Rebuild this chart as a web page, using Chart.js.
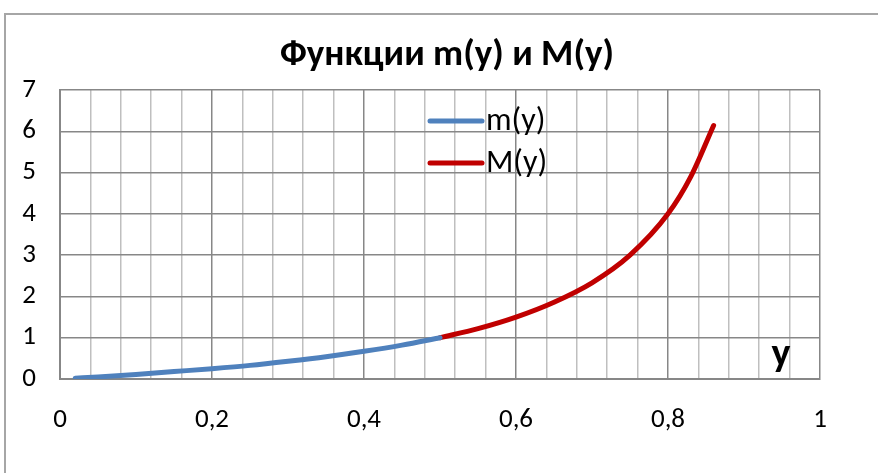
<!DOCTYPE html>
<html>
<head>
<meta charset="utf-8">
<script src="https://cdn.jsdelivr.net/npm/chart.js@4.4.1/dist/chart.umd.min.js"></script>
<style>
  body { margin: 0; background: #fff; overflow: hidden; }
  #frame { position: absolute; left: 4px; top: 13px; width: 900px; height: 500px; border: 2px solid #a6a6a6; }
  canvas { position: absolute; left: 0; top: 0; }
</style>
</head>
<body>
<div id="frame"></div>
<canvas id="chart" width="878" height="473"></canvas>
<script>
// m(y) and M(y)
const mX = [0.02, 0.05, 0.1, 0.15, 0.2, 0.25, 0.3, 0.35, 0.4, 0.45, 0.5];
const mY = [0.02, 0.05, 0.11, 0.18, 0.25, 0.33, 0.43, 0.54, 0.67, 0.82, 1.0];
const bigX = [0.5, 0.55, 0.6, 0.65, 0.7, 0.75, 0.8, 0.83, 0.86];
const bigY = [1.0, 1.22, 1.5, 1.86, 2.33, 3.0, 4.0, 4.9, 6.14];
const xTicks = ['0', '0,2', '0,4', '0,6', '0,8', '1'];
const titleText = 'Функции m(y) и M(y)';

const fam = 'Carlito, Lato, "Open Sans", sans-serif';
const tickFont = { family: fam, size: 27 };
const majorGrid = '#878787';
const minorGrid = '#bfbfbf';

function pts(xs, ys) {
  return xs.map((x, i) => ({ x: x, y: ys[i] }));
}

const isMajor = v => Math.round(v * 100) % 20 === 0;

// title, legend and the "y" axis name, placed like in the Excel chart
const extras = {
  id: 'extras',
  afterDatasetsDraw(chart) {
    const c = chart.ctx;
    const a = chart.chartArea;
    c.save();
    c.fillStyle = '#000';
    c.font = 'bold 37px ' + fam;
    c.textAlign = 'center';
    c.textBaseline = 'middle';
    c.fillText(titleText, 447, 56);

    c.textAlign = 'left';
    c.lineCap = 'round';
    c.lineWidth = 5;
    c.font = '32px ' + fam;
    chart.data.datasets.forEach((ds, i) => {
      const y = a.top + 31 + i * 42;
      c.strokeStyle = ds.borderColor;
      c.beginPath();
      c.moveTo(a.left + 370, y);
      c.lineTo(a.left + 422, y);
      c.stroke();
      c.fillText(ds.label, a.left + 426, y + 1);
    });
    c.font = 'bold 40px ' + fam;
    c.textAlign = 'center';
    c.textBaseline = 'alphabetic';
    c.fillText('y', a.right - 39, a.bottom - 13);
    c.restore();
  }
};

new Chart(document.getElementById('chart'), {
  type: 'scatter',
  data: {
    datasets: [{
      label: 'm(y)',
      data: pts(mX, mY),
      showLine: true,
      borderColor: '#4f81bd',
      borderWidth: 5,
      pointRadius: 0,
      cubicInterpolationMode: 'monotone',
      borderCapStyle: 'round'
    }, {
      label: 'M(y)',
      data: pts(bigX, bigY),
      showLine: true,
      borderColor: '#c00000',
      borderWidth: 5,
      pointRadius: 0,
      cubicInterpolationMode: 'monotone',
      borderCapStyle: 'round'
    }]
  },
  options: {
    responsive: false,
    animation: false,
    layout: { padding: { left: 0, right: 58, top: 90, bottom: 0 } },
    plugins: {
      legend: { display: false },
      tooltip: { enabled: false },
      title: { display: false }
    },
    scales: {
      x: {
        type: 'linear',
        min: 0,
        max: 1,
        afterFit: s => { s.height = 94; },
        afterBuildTicks: s => {
          s.ticks = [];
          for (let i = 0; i <= 25; i++) s.ticks.push({ value: i * 0.04 });
        },
        ticks: {
          autoSkip: false,
          maxRotation: 0,
          padding: 25,
          color: '#000',
          font: tickFont,
          callback: v => isMajor(v) ? xTicks[Math.round(v * 5)] : ''
        },
        grid: {
          drawTicks: false,
          lineWidth: 1.5,
          color: c => isMajor(c.tick.value) ? majorGrid : minorGrid
        },
        border: { color: majorGrid, width: 2 }
      },
      y: {
        min: 0,
        max: 7,
        afterFit: s => { s.width = 60; },
        ticks: { stepSize: 1, padding: 24, color: '#000', font: tickFont },
        grid: { drawTicks: false, lineWidth: 1.5, color: majorGrid },
        border: { color: majorGrid, width: 2 }
      }
    }
  },
  plugins: [extras]
});
</script>
</body>
</html>
